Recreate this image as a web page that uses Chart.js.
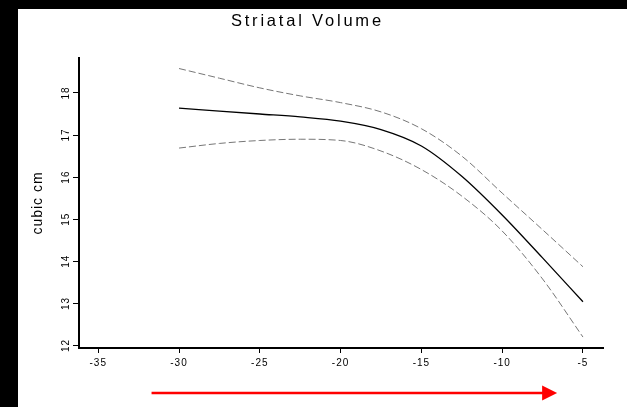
<!DOCTYPE html>
<html><head><meta charset="utf-8">
<style>html,body{margin:0;padding:0;background:#fff;overflow:hidden}#wrap{width:627px;height:407px;position:relative}canvas{display:block}</style>
<script src="https://cdn.jsdelivr.net/npm/chart.js@4.4.1/dist/chart.umd.min.js"></script>
</head><body><div id="wrap"><canvas id="c" width="627" height="407"></canvas></div>
<script>
const titleText = 'Striatal Volume';
const yAxisTitle = 'cubic cm';
const ages = [-30, -27.5, -25, -22.5, -20, -17.5, -15, -12.5, -10, -7.5, -5];
const fitValues = [17.64, 17.57, 17.50, 17.43, 17.33, 17.13, 16.74, 16.02, 15.10, 14.08, 13.04];
const upperValues = [18.58, 18.35, 18.12, 17.93, 17.77, 17.55, 17.15, 16.50, 15.62, 14.75, 13.87];
const lowerValues = [16.69, 16.80, 16.87, 16.90, 16.87, 16.62, 16.18, 15.55, 14.72, 13.58, 12.20];
const xTickValues = [-35, -30, -25, -20, -15, -10, -5];
const yTickValues = [12, 13, 14, 15, 16, 17, 18];
const arrowFrom = -31.7, arrowTo = -6.6;

const FONT = '"Liberation Sans", Arial, Helvetica, sans-serif';
const pts = vals => ages.map((a, i) => ({x: a, y: vals[i]}));

const decor = {
  id: 'decor',
  beforeDraw(chart) {
    const c = chart.ctx;
    c.save();
    c.fillStyle = '#fff'; c.fillRect(0, 0, chart.width, chart.height);
    c.fillStyle = '#000';
    c.fillRect(0, 0, 18, chart.height);
    c.fillRect(0, 0, chart.width, 9);
    c.restore();
    c.letterSpacing = '1px';
  },
  afterDraw(chart) {
    const c = chart.ctx, xs = chart.scales.x;
    c.save();
    c.letterSpacing = '2.8px';
    c.font = '16.5px ' + FONT;
    c.fillStyle = '#000';
    c.textAlign = 'center';
    c.textBaseline = 'alphabetic';
    c.fillText(titleText, 306 + 1.4, 26);
    const y = chart.chartArea.bottom + 45;
    const x0 = xs.getPixelForValue(arrowFrom), x1 = xs.getPixelForValue(arrowTo);
    c.strokeStyle = '#ff0000'; c.lineWidth = 2.5;
    c.beginPath(); c.moveTo(x0, y); c.lineTo(x1 - 13, y); c.stroke();
    c.fillStyle = '#ff0000';
    c.beginPath(); c.moveTo(x1, y); c.lineTo(x1 - 15, y - 7.5); c.lineTo(x1 - 15, y + 7.5); c.closePath(); c.fill();
    c.restore();
  }
};

new Chart(document.getElementById('c'), {
  type: 'line',
  data: {
    datasets: [
      {data: pts(upperValues), borderColor: '#777', borderWidth: 1, borderDash: [7, 3], pointRadius: 0, cubicInterpolationMode: 'monotone', fill: false},
      {data: pts(fitValues), borderColor: '#000', borderWidth: 1.3, pointRadius: 0, cubicInterpolationMode: 'monotone', fill: false},
      {data: pts(lowerValues), borderColor: '#777', borderWidth: 1, borderDash: [7, 3], pointRadius: 0, cubicInterpolationMode: 'monotone', fill: false}
    ]
  },
  options: {
    responsive: false, animation: false, devicePixelRatio: 1,
    layout: {padding: {left: 0, right: 24, top: 58, bottom: 0}},
    plugins: {legend: {display: false}, tooltip: {enabled: false}, title: {display: false}},
    scales: {
      x: {
        type: 'linear', min: -36.19, max: -3.76,
        afterBuildTicks: s => { s.ticks = xTickValues.map(v => ({value: v})); },
        afterFit: s => { s.height = 59; },
        border: {display: true, color: '#000', width: 2},
        grid: {display: true, drawOnChartArea: false, drawTicks: true, tickLength: 5, color: '#000', lineWidth: 1},
        ticks: {color: '#000', padding: 4, maxRotation: 0, font: {family: FONT, size: 10}, callback: v => String(v)}
      },
      y: {
        type: 'linear', min: 11.94, max: 18.83,
        afterBuildTicks: s => { s.ticks = yTickValues.map(v => ({value: v})); },
        afterFit: s => { s.width = 79; },
        border: {display: true, color: '#000', width: 2},
        grid: {display: true, drawOnChartArea: false, drawTicks: true, tickLength: 6, color: '#000', lineWidth: 1},
        ticks: {color: '#000', padding: 1, minRotation: 90, maxRotation: 90, crossAlign: 'center', font: {family: FONT, size: 10}, callback: v => String(v)},
        title: {display: true, text: yAxisTitle, color: '#000', font: {family: FONT, size: 14}, padding: {top: 30, bottom: 0}}
      }
    }
  },
  plugins: [decor]
});
</script></body></html>
